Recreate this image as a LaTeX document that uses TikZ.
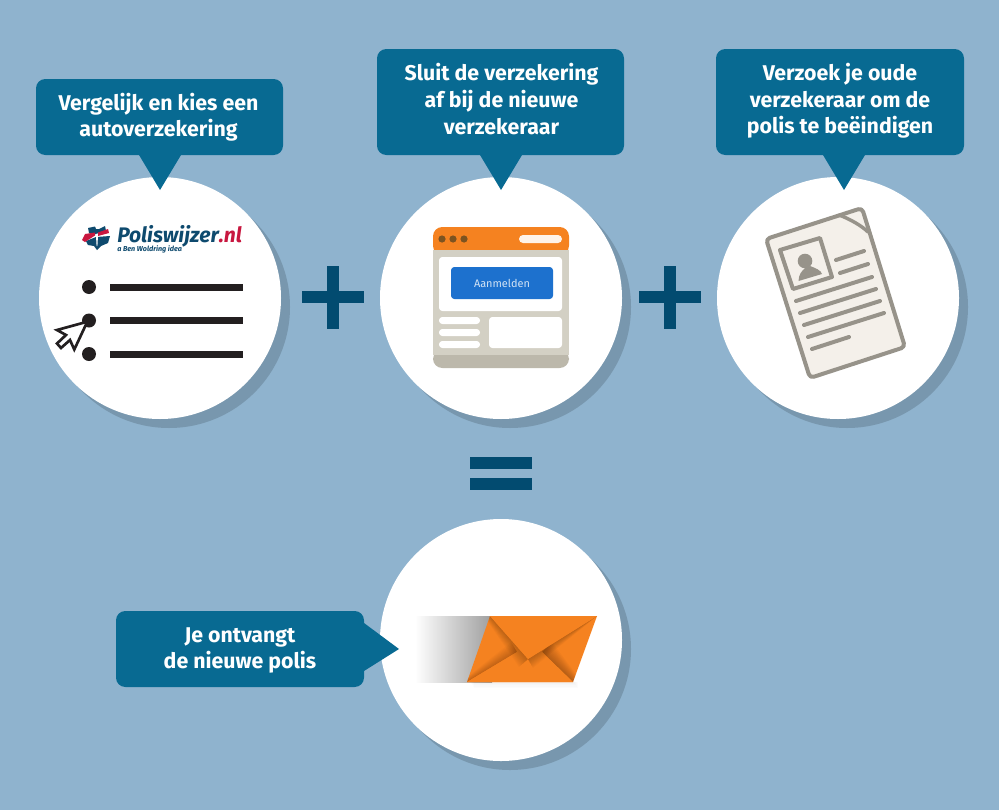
\documentclass[tikz,border=0pt]{standalone}
\usepackage{fontspec}
\setmainfont{Fira Sans}
\usetikzlibrary{fadings}
\definecolor{bgblue}{HTML}{8FB3CE}
\definecolor{shadowblue}{HTML}{7897AE}
\definecolor{boxblue}{HTML}{086A92}
\definecolor{signblue}{HTML}{024B70}
\definecolor{orangeA}{HTML}{F58220}
\definecolor{panelgrey}{HTML}{D3D0C4}
\definecolor{footgrey}{HTML}{BCB8AB}
\definecolor{docgrey}{HTML}{97938A}
\definecolor{docfill}{HTML}{F4F0EA}
\definecolor{btnblue}{HTML}{1D71CE}
\definecolor{logoblue}{HTML}{0E4A6E}
\definecolor{logored}{HTML}{C8173F}
\definecolor{inkblack}{HTML}{231F20}
\definecolor{dotbrown}{HTML}{7D5320}
\tikzset{
  x=0.75pt,y=-0.75pt,
  calloutbox/.style={fill=boxblue,rounded corners=7pt,inner sep=0pt},
  callouttext/.style={text=white,font=\fontsize{16pt}{19.9pt}\selectfont\bfseries,align=center,inner sep=0pt},
  tipshape/.style={fill=boxblue,draw=none},
  disc/.style={circle,fill=white,minimum size=181.5pt,inner sep=0pt},
  discshadow/.style={circle,fill=shadowblue,minimum size=181.5pt,inner sep=0pt},
  signbar/.style={fill=signblue,draw=none},
  bulletdot/.style={circle,fill=inkblack,minimum size=10.5pt,inner sep=0pt},
  listbar/.style={fill=inkblack,draw=none},
  panel/.style={fill=white,draw=none,rounded corners=2.5pt},
  docline/.style={draw=docgrey,line width=3pt,line cap=round},
}
\begin{document}
\begin{tikzpicture}
\useasboundingbox (0,0) rectangle (999,810);
\fill[bgblue] (0,0) rectangle (999,810);
% shadows and discs
\foreach \nm/\cx/\cy in {a/160/298,b/501/298,c/838/298,d/501/640}{
  \node[discshadow] (s\nm) at (\cx+9,\cy+9) {};
}
\foreach \nm/\cx/\cy in {a/160/298,b/501/298,c/838/298,d/501/640}{
  \node[disc] (d\nm) at (\cx,\cy) {};
}
% callouts
\fill[tipshape] (136,150) -- (184,150) -- (160,190) -- cycle;
\fill[tipshape] (477,150) -- (525,150) -- (501,190) -- cycle;
\fill[tipshape] (820,150) -- (868,150) -- (844,190) -- cycle;
\fill[tipshape] (358,623) -- (364,623) -- (399,649) -- (364,671) -- (358,671) -- cycle;
\node[calloutbox,minimum width=185.25pt,minimum height=57pt] (c1) at (159.5,117) {};
\node[calloutbox,minimum width=185.25pt,minimum height=79.5pt] (c2) at (500.5,102) {};
\node[calloutbox,minimum width=186pt,minimum height=79.5pt] (c3) at (840,102) {};
\node[calloutbox,minimum width=186pt,minimum height=57pt] (c4) at (240,649) {};
\node[callouttext] (t1) at (158.5,117) {Vergelijk en kies een\\autoverzekering};
\node[callouttext] (t2) at (501.5,99) {Sluit de verzekering\\af bij de nieuwe\\verzekeraar};
\node[callouttext] (t3) at (840,101) {Verzoek je oude\\verzekeraar om de\\polis te beëindigen};
\node[callouttext] (t4) at (240,650.5) {Je ontvangt\\de nieuwe polis};
% plus and equals signs
\fill[signbar] (302,291) rectangle (364,303);
\fill[signbar] (327,266) rectangle (339,329);
\fill[signbar] (639,291) rectangle (701,303);
\fill[signbar] (664,266) rectangle (676,329);
\fill[signbar] (470,457) rectangle (532,469);
\fill[signbar] (470,478) rectangle (532,490);
% logo
\fill[logoblue] (88,228) -- (95,226.5) -- (96,229) -- (99,229) -- (105,226) -- (106,231) -- (92,235) -- (89,233) -- cycle;
\fill[logoblue] (86,241) -- (96,237) -- (110,236) -- (108,243) -- (101,246) -- (97,250) -- (94,246) -- (88,245) -- cycle;
\fill[white] (96,236) -- (98,236) -- (97.4,246) -- (96.6,246) -- cycle;
\fill[logored] (82,240) -- (85,234) -- (95,232.5) -- (95,235.5) -- (85,242) -- cycle;
\fill[logored] (98,232.5) -- (108,229) -- (109,233) -- (98,236) -- cycle;
\node[anchor=base west,inner sep=0pt,font=\fontsize{15.8pt}{16pt}\selectfont\bfseries\itshape] (logotext) at (117,242) {\textcolor{logoblue}{Poliswijzer}\textcolor{logored}{.nl}};
\node[anchor=base west,inner sep=0pt,text=logoblue,font=\fontsize{5.4pt}{6pt}\selectfont\bfseries\itshape] (logosub) at (117,251.5) {a Ben Woldring idea};
% list
\foreach \nm/\y in {p/287,q/320.5,r/354}{
  \node[bulletdot] (\nm) at (89,\y) {};
  \fill[listbar] (110,\y-3.5) rectangle (243,\y+3.5);
}
\draw[fill=white,draw=inkblack,line width=2pt,line join=miter]
  (87.3,321.7) -- (57,330) -- (66,335) -- (57,343.5) -- (61,348) -- (70,340) -- (74.3,349.5) -- cycle;
% browser window
\fill[panelgrey] (433,250) rectangle (569,355);
\fill[orangeA,rounded corners=7pt] (433,255) -- (433,227) -- (569,227) -- (569,255) -- cycle;
\fill[panelgrey] (433,250) rectangle (569,262);
\fill[footgrey,rounded corners=7pt] (433,350) -- (433,368) -- (569,368) -- (569,350) -- cycle;
\fill[panelgrey] (433,345) rectangle (569,355);
\foreach \x in {442,453,464}{\fill[dotbrown] (\x,239) circle[radius=3.6];}
\fill[white!90!orangeA,rounded corners=3pt] (519,235) rectangle (562,243);
\fill[panel] (439,257) rectangle (562,311);
\node[fill=btnblue,rounded corners=2.5pt,minimum width=76.5pt,minimum height=24pt,inner sep=0pt,text=white!80!btnblue,font=\fontsize{8.2pt}{10pt}\selectfont] (btn) at (502,283) {Aanmelden};
\foreach \y in {317,329,341}{\fill[white,rounded corners=2.5pt] (439,\y) rectangle (480,\y+7);}
\fill[panel] (489,317) rectangle (562,348);
% document
\draw[fill=docfill,draw=docgrey,line width=3pt,line join=round,rounded corners=3pt] (766,239) -- (862,208) -- (905,347) -- (810,378) -- cycle;
\draw[docgrey,line width=2.6pt,line cap=round] (839,215) .. controls (850,219) and (862,226) .. (868,232);
\draw[draw=docgrey,line width=3pt,line join=round] (780,250) -- (820,238) -- (832,277) -- (793,289) -- cycle;
\fill[docgrey] (805,261) circle[radius=7.3];
\fill[docgrey] (798.5,281) .. controls (799,274) and (801,272) .. (805,268) -- (810,266) .. controls (815,268) and (821,270) .. (822,274) -- cycle;
\draw[docline] (836,260) -- (864,251);
\draw[docline] (840,273) -- (868,264);
\draw[docline] (796,301) -- (872,277);
\draw[docline] (800,313) -- (876,289);
\draw[docline] (804,325) -- (880,301);
\draw[docline] (808,337) -- (884,313);
\draw[docline] (812,349) -- (849,337);
% envelope
\shade[left color=white,right color=black!38] (415,616) rectangle (492,682);
\foreach \i in {1,...,4}{\fill[black,opacity=.012] (470+\i,682) rectangle (574+\i,682+\i*1.5);}
\fill[orangeA] (490,616) -- (597,616) -- (573,682) -- (467,682) -- cycle;
\begin{scope}
  \clip (490,616) -- (597,616) -- (573,682) -- (467,682) -- cycle;
  % shade beside the right crease
  \foreach \i in {1,...,10}{\fill[black,opacity=.028] (542,652) -- (573,682) -- (573+\i*.5,682-\i*.5) -- (542+\i*1.0,652-\i*1.0) -- cycle;}
  % shade beside the left crease
  \foreach \i in {1,...,10}{\fill[black,opacity=.018] (517,652) -- (467,682) -- (467-\i*.2,682-\i*.3) -- (517-\i*.6,652-\i*1.0) -- cycle;}
  % lower flap
  \fill[orangeA] (467,682) -- (517,652) -- (528,659) -- (542,652) -- (573,682) -- cycle;
  % shade under the top flap
  \foreach \i in {1,...,10}{\fill[black,opacity=.024] (490,616) -- (528,659) -- (528-\i*.9,659+\i*.8) -- (490-\i*.4,616+\i*.3) -- cycle;}
  \foreach \i in {1,...,10}{\fill[black,opacity=.024] (597,616) -- (528,659) -- (528+\i*.5,659+\i*.9) -- (597,616) -- cycle;}
  \fill[orangeA] (490,616) -- (597,616) -- (528,659) -- cycle;
\end{scope}
\end{tikzpicture}
\end{document}
